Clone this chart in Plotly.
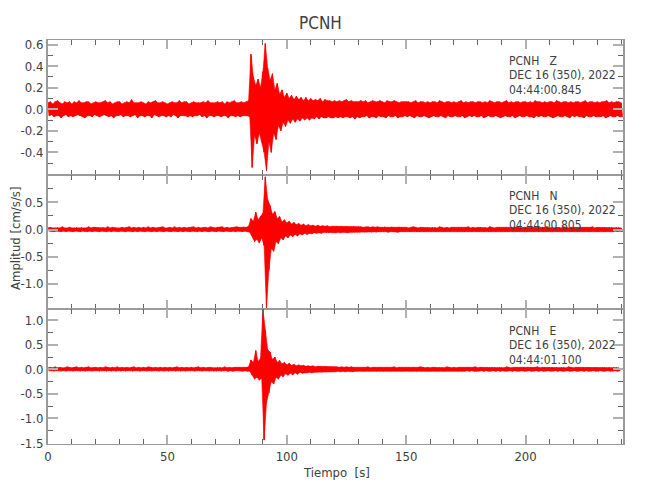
import numpy as np
import plotly.graph_objects as go
from plotly.subplots import make_subplots

# ---------------- data ----------------
# per-second peak values (upper / lower excursion) of each component, cm/s/s
z_upper = [
    0.06,0.07,0.05,0.07,0.08,0.06,0.05,0.07,0.06,0.07,
    0.05,0.07,0.06,0.08,0.06,0.06,0.07,0.07,0.05,0.06,
    0.07,0.06,0.06,0.07,0.08,0.06,0.07,0.05,0.06,0.07,
    0.07,0.05,0.06,0.07,0.06,0.09,0.06,0.06,0.06,0.07,
    0.06,0.05,0.07,0.06,0.07,0.08,0.06,0.06,0.07,0.06,
    0.05,0.06,0.07,0.06,0.06,0.08,0.06,0.07,0.07,0.05,
    0.06,0.07,0.06,0.06,0.06,0.07,0.06,0.08,0.06,0.06,
    0.06,0.07,0.06,0.07,0.05,0.07,0.06,0.07,0.08,0.06,
    0.06,0.07,0.06,0.07,0.08,0.51,0.30,0.22,0.28,0.20,
    0.35,0.61,0.38,0.27,0.33,0.18,0.24,0.14,0.18,0.11,
    0.15,0.10,0.13,0.09,0.12,0.09,0.11,0.08,0.11,0.08,
    0.10,0.08,0.09,0.08,0.10,0.07,0.09,0.08,0.08,0.07,
    0.08,0.07,0.08,0.07,0.08,0.09,0.07,0.08,0.07,0.07,
    0.07,0.08,0.07,0.08,0.06,0.07,0.08,0.07,0.07,0.08,
    0.07,0.06,0.08,0.07,0.07,0.08,0.07,0.06,0.07,0.07,
    0.07,0.07,0.06,0.07,0.08,0.06,0.07,0.07,0.06,0.07,
    0.06,0.07,0.07,0.06,0.08,0.07,0.06,0.07,0.07,0.06,
    0.07,0.06,0.07,0.08,0.06,0.07,0.06,0.07,0.07,0.06,
    0.07,0.07,0.06,0.07,0.06,0.08,0.07,0.06,0.07,0.07,
    0.06,0.07,0.08,0.06,0.07,0.06,0.07,0.07,0.06,0.07,
    0.07,0.06,0.07,0.06,0.08,0.07,0.07,0.06,0.07,0.06,
    0.07,0.07,0.06,0.08,0.07,0.06,0.07,0.07,0.06,0.07,
    0.06,0.07,0.07,0.06,0.07,0.08,0.06,0.07,0.07,0.06,
    0.07,0.06,0.07,0.07,0.08,0.06,0.07,0.06,0.07,0.07,
    0.06,
]
z_lower = [
    -0.06,-0.05,-0.07,-0.06,-0.06,-0.08,-0.06,-0.05,-0.07,-0.06,
    -0.07,-0.06,-0.05,-0.06,-0.07,-0.08,-0.06,-0.06,-0.07,-0.05,
    -0.06,-0.07,-0.06,-0.05,-0.06,-0.07,-0.06,-0.08,-0.06,-0.06,
    -0.05,-0.07,-0.06,-0.06,-0.07,-0.06,-0.05,-0.08,-0.06,-0.06,
    -0.07,-0.06,-0.06,-0.08,-0.05,-0.06,-0.07,-0.06,-0.06,-0.07,
    -0.06,-0.07,-0.05,-0.06,-0.08,-0.06,-0.06,-0.06,-0.07,-0.06,
    -0.07,-0.06,-0.06,-0.05,-0.07,-0.06,-0.08,-0.06,-0.06,-0.07,
    -0.06,-0.06,-0.07,-0.06,-0.06,-0.08,-0.06,-0.06,-0.07,-0.06,
    -0.07,-0.06,-0.06,-0.06,-0.07,-0.54,-0.24,-0.32,-0.22,-0.30,
    -0.40,-0.57,-0.30,-0.40,-0.22,-0.28,-0.15,-0.20,-0.12,-0.16,
    -0.10,-0.13,-0.09,-0.12,-0.09,-0.11,-0.08,-0.10,-0.08,-0.10,
    -0.08,-0.09,-0.07,-0.09,-0.07,-0.08,-0.08,-0.07,-0.08,-0.08,
    -0.07,-0.08,-0.07,-0.08,-0.07,-0.07,-0.08,-0.07,-0.09,-0.07,
    -0.08,-0.07,-0.07,-0.06,-0.08,-0.07,-0.07,-0.08,-0.06,-0.07,
    -0.07,-0.08,-0.06,-0.07,-0.07,-0.06,-0.08,-0.07,-0.07,-0.06,
    -0.07,-0.06,-0.07,-0.08,-0.06,-0.07,-0.07,-0.06,-0.07,-0.08,
    -0.07,-0.06,-0.07,-0.07,-0.06,-0.07,-0.08,-0.06,-0.07,-0.07,
    -0.06,-0.07,-0.07,-0.06,-0.08,-0.07,-0.06,-0.07,-0.06,-0.07,
    -0.07,-0.06,-0.08,-0.07,-0.06,-0.07,-0.07,-0.06,-0.07,-0.08,
    -0.07,-0.06,-0.07,-0.07,-0.06,-0.08,-0.07,-0.06,-0.07,-0.07,
    -0.06,-0.07,-0.07,-0.08,-0.06,-0.07,-0.06,-0.07,-0.07,-0.06,
    -0.07,-0.08,-0.07,-0.06,-0.07,-0.07,-0.06,-0.07,-0.08,-0.06,
    -0.07,-0.06,-0.07,-0.07,-0.08,-0.06,-0.07,-0.07,-0.06,-0.07,
    -0.07,-0.07,-0.06,-0.08,-0.07,-0.06,-0.07,-0.07,-0.06,-0.07,
    -0.07,
]
n_upper = [
    0.03,0.04,0.03,0.03,0.04,0.03,0.05,0.03,0.03,0.04,
    0.03,0.03,0.04,0.03,0.04,0.03,0.03,0.05,0.03,0.04,
    0.04,0.03,0.03,0.04,0.03,0.05,0.03,0.04,0.03,0.03,
    0.03,0.04,0.03,0.04,0.05,0.03,0.04,0.03,0.04,0.03,
    0.04,0.03,0.05,0.03,0.04,0.03,0.03,0.04,0.05,0.03,
    0.03,0.04,0.03,0.05,0.03,0.04,0.03,0.04,0.03,0.04,
    0.04,0.05,0.03,0.04,0.03,0.04,0.04,0.03,0.05,0.04,
    0.03,0.04,0.04,0.05,0.03,0.04,0.03,0.04,0.04,0.05,
    0.04,0.04,0.05,0.04,0.06,0.20,0.15,0.32,0.18,0.24,
    0.30,0.97,0.55,0.44,0.28,0.33,0.20,0.24,0.14,0.18,
    0.12,0.15,0.10,0.13,0.09,0.11,0.08,0.10,0.07,0.09,
    0.07,0.08,0.06,0.08,0.06,0.07,0.06,0.07,0.05,0.06,
    0.06,0.06,0.05,0.06,0.05,0.06,0.05,0.05,0.06,0.05,
    0.05,0.05,0.04,0.05,0.05,0.04,0.05,0.04,0.05,0.04,
    0.04,0.05,0.04,0.04,0.05,0.04,0.04,0.05,0.04,0.04,
    0.04,0.03,0.04,0.05,0.04,0.03,0.04,0.04,0.03,0.04,
    0.03,0.04,0.04,0.03,0.05,0.04,0.03,0.04,0.03,0.04,
    0.04,0.03,0.04,0.04,0.03,0.04,0.05,0.03,0.04,0.03,
    0.04,0.04,0.03,0.04,0.03,0.05,0.04,0.03,0.04,0.04,
    0.03,0.04,0.04,0.03,0.04,0.03,0.04,0.05,0.03,0.04,
    0.04,0.03,0.04,0.04,0.03,0.04,0.03,0.04,0.04,0.05,
    0.03,0.04,0.03,0.04,0.04,0.03,0.05,0.04,0.03,0.04,
    0.04,0.03,0.04,0.03,0.04,0.04,0.03,0.04,0.05,0.03,
    0.04,0.04,0.03,0.04,0.03,0.04,0.04,0.03,0.04,0.04,
    0.03,
]
n_lower = [
    -0.03,-0.03,-0.04,-0.03,-0.03,-0.04,-0.03,-0.04,-0.03,-0.03,
    -0.04,-0.03,-0.03,-0.04,-0.03,-0.03,-0.04,-0.03,-0.04,-0.03,
    -0.03,-0.04,-0.03,-0.03,-0.04,-0.03,-0.04,-0.03,-0.03,-0.04,
    -0.03,-0.03,-0.04,-0.03,-0.03,-0.04,-0.03,-0.04,-0.03,-0.03,
    -0.04,-0.03,-0.03,-0.04,-0.03,-0.04,-0.03,-0.03,-0.04,-0.03,
    -0.03,-0.04,-0.03,-0.03,-0.04,-0.03,-0.04,-0.03,-0.03,-0.04,
    -0.03,-0.03,-0.04,-0.03,-0.04,-0.03,-0.03,-0.04,-0.03,-0.03,
    -0.04,-0.03,-0.03,-0.04,-0.03,-0.03,-0.04,-0.03,-0.04,-0.03,
    -0.03,-0.04,-0.03,-0.04,-0.05,-0.12,-0.22,-0.18,-0.25,-0.15,
    -0.30,-1.44,-0.75,-0.35,-0.40,-0.22,-0.26,-0.15,-0.19,-0.12,
    -0.15,-0.10,-0.13,-0.09,-0.12,-0.08,-0.10,-0.07,-0.09,-0.07,
    -0.08,-0.06,-0.07,-0.06,-0.07,-0.05,-0.06,-0.06,-0.05,-0.06,
    -0.06,-0.05,-0.06,-0.05,-0.05,-0.06,-0.05,-0.05,-0.05,-0.05,
    -0.05,-0.04,-0.05,-0.05,-0.04,-0.05,-0.04,-0.05,-0.04,-0.04,
    -0.04,-0.04,-0.05,-0.04,-0.04,-0.04,-0.05,-0.04,-0.04,-0.04,
    -0.03,-0.04,-0.04,-0.03,-0.04,-0.04,-0.03,-0.04,-0.04,-0.03,
    -0.04,-0.03,-0.04,-0.04,-0.03,-0.04,-0.04,-0.03,-0.04,-0.03,
    -0.03,-0.04,-0.03,-0.04,-0.04,-0.03,-0.04,-0.04,-0.03,-0.04,
    -0.04,-0.03,-0.04,-0.03,-0.04,-0.04,-0.03,-0.04,-0.03,-0.04,
    -0.03,-0.04,-0.04,-0.03,-0.04,-0.03,-0.04,-0.04,-0.03,-0.04,
    -0.04,-0.03,-0.04,-0.04,-0.03,-0.04,-0.03,-0.04,-0.04,-0.03,
    -0.04,-0.04,-0.03,-0.04,-0.03,-0.04,-0.04,-0.03,-0.04,-0.04,
    -0.03,-0.04,-0.04,-0.03,-0.04,-0.03,-0.04,-0.04,-0.03,-0.04,
    -0.04,-0.03,-0.04,-0.04,-0.03,-0.04,-0.04,-0.03,-0.04,-0.03,
    -0.04,
]
e_upper = [
    0.03,0.04,0.03,0.05,0.03,0.04,0.03,0.03,0.05,0.04,
    0.03,0.04,0.05,0.03,0.04,0.03,0.04,0.05,0.03,0.04,
    0.04,0.03,0.04,0.03,0.05,0.04,0.03,0.04,0.03,0.05,
    0.03,0.04,0.03,0.04,0.03,0.04,0.05,0.03,0.04,0.03,
    0.04,0.03,0.05,0.04,0.03,0.04,0.03,0.04,0.03,0.04,
    0.03,0.04,0.03,0.04,0.05,0.03,0.04,0.03,0.04,0.03,
    0.04,0.03,0.04,0.05,0.03,0.04,0.03,0.04,0.04,0.03,
    0.03,0.04,0.04,0.03,0.05,0.03,0.04,0.03,0.04,0.04,
    0.04,0.03,0.04,0.04,0.05,0.19,0.14,0.38,0.16,0.22,
    1.22,0.79,0.40,0.35,0.20,0.25,0.14,0.18,0.11,0.14,
    0.09,0.12,0.08,0.10,0.07,0.09,0.07,0.08,0.06,0.07,
    0.06,0.07,0.05,0.06,0.06,0.05,0.06,0.05,0.05,0.05,
    0.05,0.05,0.04,0.05,0.04,0.05,0.04,0.05,0.04,0.04,
    0.04,0.03,0.04,0.04,0.05,0.03,0.04,0.04,0.03,0.04,
    0.04,0.03,0.04,0.03,0.04,0.05,0.03,0.04,0.04,0.03,
    0.04,0.04,0.03,0.04,0.03,0.04,0.05,0.04,0.03,0.04,
    0.03,0.04,0.04,0.03,0.04,0.04,0.03,0.05,0.04,0.03,
    0.04,0.03,0.04,0.04,0.03,0.04,0.04,0.03,0.04,0.05,
    0.03,0.04,0.04,0.03,0.04,0.03,0.04,0.04,0.03,0.04,
    0.04,0.03,0.05,0.04,0.03,0.04,0.04,0.03,0.04,0.04,
    0.03,0.04,0.04,0.03,0.04,0.05,0.03,0.04,0.04,0.03,
    0.04,0.04,0.03,0.04,0.03,0.04,0.04,0.03,0.05,0.04,
    0.03,0.04,0.04,0.03,0.04,0.03,0.04,0.04,0.03,0.04,
    0.04,0.03,0.04,0.04,0.03,0.04,0.03,0.04,0.04,0.03,
]
e_lower = [
    -0.03,-0.03,-0.04,-0.03,-0.03,-0.04,-0.03,-0.04,-0.03,-0.03,
    -0.04,-0.03,-0.03,-0.04,-0.03,-0.04,-0.03,-0.03,-0.04,-0.03,
    -0.03,-0.04,-0.03,-0.03,-0.04,-0.03,-0.04,-0.03,-0.04,-0.03,
    -0.04,-0.03,-0.04,-0.03,-0.03,-0.04,-0.03,-0.03,-0.04,-0.03,
    -0.03,-0.04,-0.03,-0.04,-0.03,-0.03,-0.04,-0.03,-0.04,-0.03,
    -0.04,-0.03,-0.03,-0.04,-0.03,-0.04,-0.03,-0.04,-0.03,-0.03,
    -0.03,-0.04,-0.03,-0.03,-0.04,-0.03,-0.03,-0.04,-0.03,-0.04,
    -0.04,-0.03,-0.04,-0.03,-0.03,-0.04,-0.03,-0.04,-0.03,-0.03,
    -0.03,-0.04,-0.03,-0.04,-0.04,-0.12,-0.20,-0.16,-0.22,-0.18,
    -1.44,-0.68,-0.48,-0.25,-0.30,-0.16,-0.20,-0.12,-0.15,-0.09,
    -0.12,-0.08,-0.11,-0.07,-0.10,-0.06,-0.08,-0.07,-0.07,-0.06,
    -0.07,-0.06,-0.06,-0.05,-0.06,-0.05,-0.05,-0.05,-0.05,-0.05,
    -0.05,-0.04,-0.05,-0.04,-0.05,-0.04,-0.04,-0.05,-0.04,-0.04,
    -0.03,-0.04,-0.04,-0.03,-0.04,-0.04,-0.03,-0.04,-0.03,-0.04,
    -0.04,-0.03,-0.04,-0.04,-0.03,-0.04,-0.03,-0.04,-0.04,-0.03,
    -0.03,-0.04,-0.04,-0.03,-0.04,-0.03,-0.04,-0.03,-0.04,-0.04,
    -0.04,-0.03,-0.04,-0.04,-0.03,-0.04,-0.04,-0.03,-0.04,-0.03,
    -0.03,-0.04,-0.03,-0.04,-0.04,-0.03,-0.04,-0.03,-0.04,-0.04,
    -0.04,-0.03,-0.04,-0.03,-0.04,-0.04,-0.03,-0.04,-0.03,-0.04,
    -0.03,-0.04,-0.04,-0.03,-0.04,-0.03,-0.04,-0.04,-0.03,-0.04,
    -0.04,-0.03,-0.04,-0.04,-0.03,-0.04,-0.03,-0.04,-0.04,-0.03,
    -0.04,-0.04,-0.03,-0.04,-0.03,-0.04,-0.04,-0.03,-0.04,-0.04,
    -0.03,-0.04,-0.04,-0.03,-0.04,-0.03,-0.04,-0.04,-0.03,-0.04,
    -0.04,-0.03,-0.04,-0.04,-0.03,-0.04,-0.04,-0.03,-0.04,-0.03,
]

station = "PCNH"
components = ["Z", "N", "E"]
date_label = "DEC 16 (350), 2022"
start_times = ["04:44:00.845", "04:44:00.805", "04:44:01.100"]

x_ticks = [0, 50, 100, 150, 200]
x_ticktext = ["0", "50", "100", "150", "200"]
y_ticks = [
    [-0.4, -0.2, 0.0, 0.2, 0.4, 0.6],
    [-1.0, -0.5, 0.0, 0.5],
    [-1.5, -1.0, -0.5, 0.0, 0.5, 1.0],
]
y_ticktext = [
    ["-0.4", "-0.2", "0.0", "0.2", "0.4", "0.6"],
    ["-1.0", "-0.5", "0.0", "0.5"],
    ["-1.5", "-1.0", "-0.5", "0.0", "0.5", "1.0"],
]
y_minor = [0.1, 0.25, 0.25]
y_ranges = [[-0.607, 0.643], [-1.47, 1.01], [-1.52, 1.22]]
x_range = [0, 240.8]

# ---------------- figure ----------------
FONT = "Liberation Sans Narrow, DejaVu Sans Condensed, Arial Narrow, sans-serif"
TXT = "#404040"
AX = "#9a9a9a"
RED = "#ff0000"

W, H = 650, 500
ML, MR, MT, MB = 48, 27, 40, 56
PW, PH = W - ML - MR, H - MT - MB

fig = make_subplots(rows=3, cols=1, shared_xaxes=True, vertical_spacing=0)

series = [(z_upper, z_lower), (n_upper, n_lower), (e_upper, e_lower)]
for i, (up, lo) in enumerate(series):
    t = np.arange(len(up), dtype=float)
    up = np.asarray(up)
    lo = np.asarray(lo)
    # solid band between the peak excursions
    px = np.concatenate([t, (t + 0.5)[::-1]])
    py = np.concatenate([up, lo[::-1]])
    fig.add_trace(
        go.Scatter(x=px, y=py, mode="lines", fill="toself", fillcolor=RED,
                   line=dict(color=RED, width=0.6),
                   hoverinfo="skip", showlegend=False),
        row=i + 1, col=1,
    )
    # the oscillating trace itself
    xs = np.empty(2 * len(up))
    ys = np.empty(2 * len(up))
    xs[0::2] = t
    xs[1::2] = t + 0.5
    ys[0::2] = up
    ys[1::2] = lo
    fig.add_trace(
        go.Scatter(x=xs, y=ys, mode="lines",
                   line=dict(color=RED, width=1),
                   hoverinfo="skip", showlegend=False),
        row=i + 1, col=1,
    )

for i in range(3):
    fig.update_xaxes(
        row=i + 1, col=1,
        range=x_range, showgrid=False, zeroline=False,
        showline=True, linecolor=AX, linewidth=1, mirror="allticks",
        ticks="inside", ticklen=9, tickwidth=2, tickcolor="#b0b0b0",
        tickmode="array", tickvals=x_ticks, ticktext=x_ticktext,
        showticklabels=(i == 2),
        tickfont=dict(family=FONT, size=13, color=TXT),
        minor=dict(ticks="inside", ticklen=5, tickwidth=1, tickcolor="#666666",
                   tickmode="linear", tick0=0, dtick=10, showgrid=False),
    )
    fig.update_yaxes(
        row=i + 1, col=1,
        range=y_ranges[i], showgrid=False, zeroline=False,
        showline=True, linecolor=AX, linewidth=2, mirror="allticks",
        ticks="inside", ticklen=10, tickwidth=2, tickcolor="#b0b0b0",
        tickmode="array", tickvals=y_ticks[i], ticktext=y_ticktext[i],
        tickfont=dict(family=FONT, size=13, color=TXT),
        minor=dict(ticks="inside", ticklen=5, tickwidth=1, tickcolor="#666666",
                   tickmode="linear", tick0=0, dtick=y_minor[i], showgrid=False),
    )


def px_to_paper(xpx, ypx):
    return (xpx - ML) / PW, (H - MB - ypx) / PH


annotations = []
tx, ty = px_to_paper(320.5, 22.5)
annotations.append(dict(text=station, x=tx, y=ty, xref="paper", yref="paper",
                        xanchor="center", yanchor="middle", showarrow=False,
                        font=dict(family=FONT, size=17, color=TXT)))
tx, ty = px_to_paper(336, 472)
annotations.append(dict(text="Tiempo  [s]", x=tx, y=ty, xref="paper", yref="paper",
                        xanchor="center", yanchor="middle", showarrow=False,
                        font=dict(family=FONT, size=13, color=TXT)))
tx, ty = px_to_paper(15, 239)
annotations.append(dict(text="Amplitud [cm/s/s]", x=tx, y=ty, xref="paper", yref="paper",
                        xanchor="center", yanchor="middle", showarrow=False, textangle=-90,
                        font=dict(family=FONT, size=13, color=TXT)))
panel_h = PH / 3
for i in range(3):
    top = MT + i * panel_h
    lines = [f"{station}   {components[i]}", date_label, start_times[i]]
    for j, off in enumerate([21.3, 35.3, 50.2]):
        tx, ty = px_to_paper(506.7, top + off)
        annotations.append(dict(text=lines[j], x=tx, y=ty, xref="paper", yref="paper",
                                xanchor="left", yanchor="middle", showarrow=False,
                                font=dict(family=FONT, size=12, color=TXT)))

fig.update_layout(
    width=W, height=H, autosize=False,
    margin=dict(l=ML, r=MR, t=MT, b=MB, pad=0),
    paper_bgcolor="white", plot_bgcolor="white",
    showlegend=False, annotations=annotations,
    font=dict(family=FONT, color=TXT),
)

fig.write_html(
    "out.html",
    config={"displayModeBar": False},
    post_script="document.body.style.margin='0px';document.body.style.overflow='hidden';",
)
